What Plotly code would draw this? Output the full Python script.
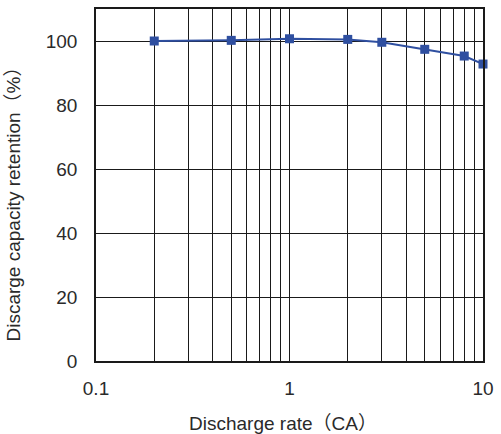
import plotly.graph_objects as go

rate_ca = [0.2, 0.5, 1, 2, 3, 5, 8, 10]
retention_pct = [100.0, 100.2, 100.7, 100.5, 99.6, 97.4, 95.3, 92.8]
y_ticks = [0, 20, 40, 60, 80, 100]
x_ticks = [0.1, 1, 10]
x_tick_labels = ["0.1", "1", "10"]
x_minor = [0.2, 0.3, 0.4, 0.5, 0.6, 0.7, 0.8, 0.9, 2, 3, 4, 5, 6, 7, 8, 9]
x_title = "Discharge rate（CA）"
y_title = "Discarge capacity retention（%）"

FONT = "Liberation Sans, Arial, Noto Sans CJK JP"
TXT = "#2a2a2a"
GRID = "#1a1a1a"

fig = go.Figure()
fig.add_trace(go.Scatter(
    x=rate_ca, y=retention_pct, mode="lines+markers",
    line=dict(color="#2f4fa0", width=2),
    marker=dict(symbol="square", size=9, color="#2f4fa0"),
    showlegend=False, cliponaxis=False,
))

fig.update_xaxes(
    type="log", range=[-1, 1],
    tickvals=x_ticks, ticktext=x_tick_labels,
    showgrid=True, gridcolor=GRID, gridwidth=1.3,
    minor=dict(showgrid=True, gridcolor=GRID, gridwidth=1, tickvals=x_minor),
    showline=True, linecolor=GRID, linewidth=1.5, mirror=True,
    ticks="", ticklabelstandoff=9, zeroline=False,
    tickfont=dict(family=FONT, size=19, color=TXT),
)
fig.update_yaxes(
    range=[0, 110], tickvals=y_ticks,
    showgrid=True, gridcolor=GRID, gridwidth=1.3,
    showline=True, linecolor=GRID, linewidth=1.5, mirror=True,
    ticks="", ticklabelstandoff=13, zeroline=False,
    tickfont=dict(family=FONT, size=19, color=TXT),
)
fig.add_annotation(
    text=x_title, xref="paper", yref="paper",
    x=(284 - 96) / 390, y=(361 - 424) / 354,
    xanchor="center", yanchor="middle", showarrow=False,
    font=dict(family=FONT, size=19, color=TXT),
)
fig.add_annotation(
    text=y_title, xref="paper", yref="paper",
    x=(13 - 96) / 390, y=(361 - 199) / 354, textangle=-90,
    xanchor="center", yanchor="middle", showarrow=False,
    font=dict(family=FONT, size=19, color=TXT),
)
fig.update_layout(
    width=501, height=434,
    margin=dict(l=96, r=15, t=7, b=73),
    paper_bgcolor="white", plot_bgcolor="white",
)
fig.write_html("out.html")
